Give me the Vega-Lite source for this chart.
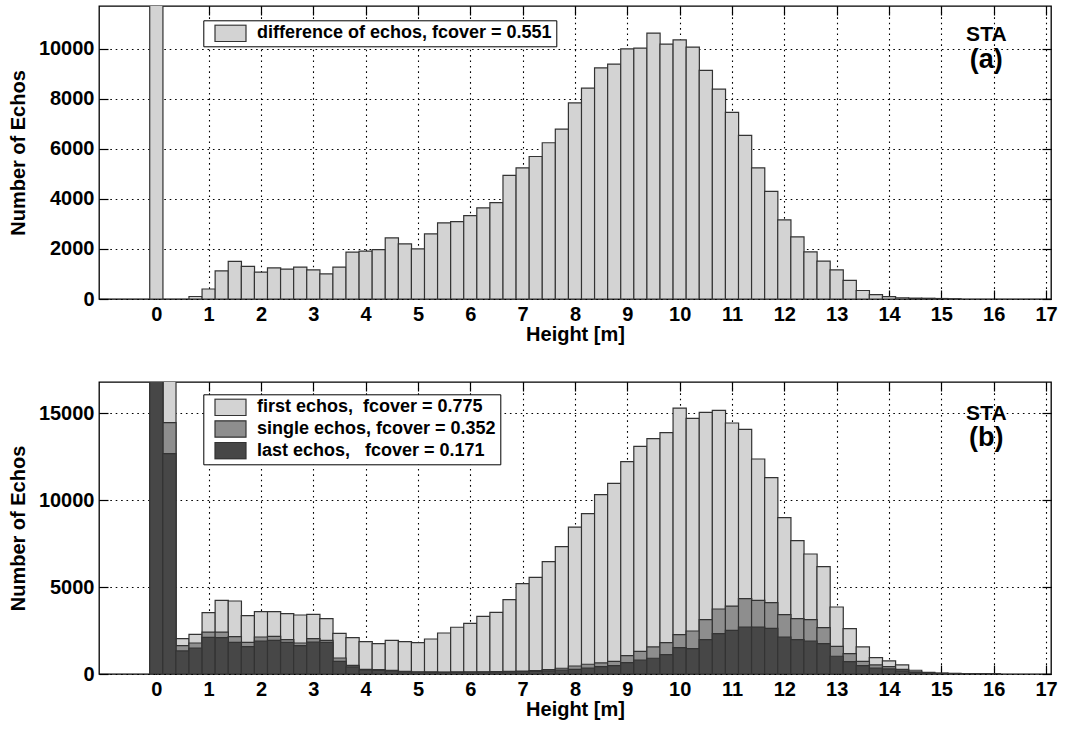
{
  "$schema": "https://vega.github.io/schema/vega-lite/v6.json",
  "background": "white",
  "padding": {"left": 7, "top": 4, "right": 3, "bottom": 2},
  "spacing": 35,
  "config": {
    "font": "Liberation Sans",
    "view": {"stroke": "#000", "strokeWidth": 1.3},
    "axis": {
      "labelFont": "Liberation Sans", "labelFontSize": 20, "labelFontWeight": "bold", "labelColor": "#000",
      "titleFont": "Liberation Sans", "titleFontSize": 20, "titleFontWeight": "bold", "titleColor": "#000",
      "domain": false, "tickColor": "#000", "tickSize": -9, "tickWidth": 1.2, "format": "d",
      "gridColor": "#000", "gridDash": [1.6, 3.8], "gridWidth": 1.1, "gridOpacity": 1
    },
    "legend": {
      "labelFont": "Liberation Sans", "labelFontSize": 18, "labelFontWeight": "bold", "labelColor": "#000", "labelLimit": 500,
      "strokeColor": "#000", "fillColor": "#fff", "padding": 4, "symbolOffset": 6.7, "labelOffset": 10,
      "rowPadding": 3.7, "clipHeight": 18, "symbolSize": 961, "symbolStrokeWidth": 1.2, "symbolStrokeColor": "#333"
    }
  },
  "resolve": {"scale": {"color": "independent"}, "legend": {"color": "independent"}},
  "datasets": {
    "top": [
      {"h": 0, "n": 30000}, {"h": 0.75, "n": 100}, {"h": 1.0, "n": 400}, {"h": 1.25, "n": 1120}, {"h": 1.5, "n": 1500},
      {"h": 1.75, "n": 1300}, {"h": 2.0, "n": 1070}, {"h": 2.25, "n": 1240}, {"h": 2.5, "n": 1190}, {"h": 2.75, "n": 1270},
      {"h": 3.0, "n": 1160}, {"h": 3.25, "n": 1000}, {"h": 3.5, "n": 1270}, {"h": 3.75, "n": 1870}, {"h": 4.0, "n": 1910},
      {"h": 4.25, "n": 1970}, {"h": 4.5, "n": 2440}, {"h": 4.75, "n": 2200}, {"h": 5.0, "n": 2000}, {"h": 5.25, "n": 2600},
      {"h": 5.5, "n": 3040}, {"h": 5.75, "n": 3090}, {"h": 6.0, "n": 3330}, {"h": 6.25, "n": 3640}, {"h": 6.5, "n": 3850},
      {"h": 6.75, "n": 4940}, {"h": 7.0, "n": 5240}, {"h": 7.25, "n": 5690}, {"h": 7.5, "n": 6240}, {"h": 7.75, "n": 6780},
      {"h": 8.0, "n": 7830}, {"h": 8.25, "n": 8420}, {"h": 8.5, "n": 9230}, {"h": 8.75, "n": 9380}, {"h": 9.0, "n": 9990},
      {"h": 9.25, "n": 10020}, {"h": 9.5, "n": 10620}, {"h": 9.75, "n": 10180}, {"h": 10.0, "n": 10350}, {"h": 10.25, "n": 10060},
      {"h": 10.5, "n": 9130}, {"h": 10.75, "n": 8380}, {"h": 11.0, "n": 7450}, {"h": 11.25, "n": 6530}, {"h": 11.5, "n": 5240},
      {"h": 11.75, "n": 4300}, {"h": 12.0, "n": 3160}, {"h": 12.25, "n": 2480}, {"h": 12.5, "n": 1880}, {"h": 12.75, "n": 1510},
      {"h": 13.0, "n": 1160}, {"h": 13.25, "n": 740}, {"h": 13.5, "n": 340}, {"h": 13.75, "n": 175}, {"h": 14.0, "n": 95},
      {"h": 14.25, "n": 50}, {"h": 14.5, "n": 35}, {"h": 14.75, "n": 30}, {"h": 15.0, "n": 20}, {"h": 15.25, "n": 10}
    ],
    "bottom": [
      {"h": 0, "s": "first", "n": 40000}, {"h": 0.25, "s": "first", "n": 20000}, {"h": 0.5, "s": "first", "n": 2035},
      {"h": 0.75, "s": "first", "n": 2280}, {"h": 1.0, "s": "first", "n": 3530}, {"h": 1.25, "s": "first", "n": 4240},
      {"h": 1.5, "s": "first", "n": 4200}, {"h": 1.75, "s": "first", "n": 3360}, {"h": 2.0, "s": "first", "n": 3590},
      {"h": 2.25, "s": "first", "n": 3590}, {"h": 2.5, "s": "first", "n": 3475}, {"h": 2.75, "s": "first", "n": 3395},
      {"h": 3.0, "s": "first", "n": 3435}, {"h": 3.25, "s": "first", "n": 3185}, {"h": 3.5, "s": "first", "n": 2340},
      {"h": 3.75, "s": "first", "n": 2095}, {"h": 4.0, "s": "first", "n": 1865}, {"h": 4.25, "s": "first", "n": 1750},
      {"h": 4.5, "s": "first", "n": 1940}, {"h": 4.75, "s": "first", "n": 1865}, {"h": 5.0, "s": "first", "n": 1805},
      {"h": 5.25, "s": "first", "n": 2015}, {"h": 5.5, "s": "first", "n": 2360}, {"h": 5.75, "s": "first", "n": 2690},
      {"h": 6.0, "s": "first", "n": 2915}, {"h": 6.25, "s": "first", "n": 3320}, {"h": 6.5, "s": "first", "n": 3550},
      {"h": 6.75, "s": "first", "n": 4280}, {"h": 7.0, "s": "first", "n": 5200}, {"h": 7.25, "s": "first", "n": 5560},
      {"h": 7.5, "s": "first", "n": 6465}, {"h": 7.75, "s": "first", "n": 7330}, {"h": 8.0, "s": "first", "n": 8455},
      {"h": 8.25, "s": "first", "n": 9230}, {"h": 8.5, "s": "first", "n": 10320}, {"h": 8.75, "s": "first", "n": 10970},
      {"h": 9.0, "s": "first", "n": 12220}, {"h": 9.25, "s": "first", "n": 13100}, {"h": 9.5, "s": "first", "n": 13540},
      {"h": 9.75, "s": "first", "n": 13890}, {"h": 10.0, "s": "first", "n": 15300}, {"h": 10.25, "s": "first", "n": 14710},
      {"h": 10.5, "s": "first", "n": 15055}, {"h": 10.75, "s": "first", "n": 15170}, {"h": 11.0, "s": "first", "n": 14440},
      {"h": 11.25, "s": "first", "n": 14075}, {"h": 11.5, "s": "first", "n": 12370}, {"h": 11.75, "s": "first", "n": 11300},
      {"h": 12.0, "s": "first", "n": 9000}, {"h": 12.25, "s": "first", "n": 7675}, {"h": 12.5, "s": "first", "n": 6905},
      {"h": 12.75, "s": "first", "n": 6180}, {"h": 13.0, "s": "first", "n": 3855}, {"h": 13.25, "s": "first", "n": 2610},
      {"h": 13.5, "s": "first", "n": 1555}, {"h": 13.75, "s": "first", "n": 945}, {"h": 14.0, "s": "first", "n": 750},
      {"h": 14.25, "s": "first", "n": 520}, {"h": 14.5, "s": "first", "n": 215}, {"h": 14.75, "s": "first", "n": 90},
      {"h": 15.0, "s": "first", "n": 60}, {"h": 15.25, "s": "first", "n": 40}, {"h": 15.5, "s": "first", "n": 20},
      {"h": 15.75, "s": "first", "n": 15}, {"h": 16.0, "s": "first", "n": 10},

      {"h": 0, "s": "single", "n": 36000}, {"h": 0.25, "s": "single", "n": 14460}, {"h": 0.5, "s": "single", "n": 1630},
      {"h": 0.75, "s": "single", "n": 1785}, {"h": 1.0, "s": "single", "n": 2415}, {"h": 1.25, "s": "single", "n": 2415},
      {"h": 1.5, "s": "single", "n": 2150}, {"h": 1.75, "s": "single", "n": 1825}, {"h": 2.0, "s": "single", "n": 2130},
      {"h": 2.25, "s": "single", "n": 2170}, {"h": 2.5, "s": "single", "n": 1980}, {"h": 2.75, "s": "single", "n": 1785},
      {"h": 3.0, "s": "single", "n": 2035}, {"h": 3.25, "s": "single", "n": 1940}, {"h": 3.5, "s": "single", "n": 920},
      {"h": 3.75, "s": "single", "n": 500}, {"h": 4.0, "s": "single", "n": 270}, {"h": 4.25, "s": "single", "n": 250},
      {"h": 4.5, "s": "single", "n": 210}, {"h": 4.75, "s": "single", "n": 150}, {"h": 5.0, "s": "single", "n": 130},
      {"h": 5.25, "s": "single", "n": 120}, {"h": 5.5, "s": "single", "n": 115}, {"h": 5.75, "s": "single", "n": 120},
      {"h": 6.0, "s": "single", "n": 125}, {"h": 6.25, "s": "single", "n": 130}, {"h": 6.5, "s": "single", "n": 140},
      {"h": 6.75, "s": "single", "n": 150}, {"h": 7.0, "s": "single", "n": 170}, {"h": 7.25, "s": "single", "n": 190},
      {"h": 7.5, "s": "single", "n": 250}, {"h": 7.75, "s": "single", "n": 330}, {"h": 8.0, "s": "single", "n": 460},
      {"h": 8.25, "s": "single", "n": 560}, {"h": 8.5, "s": "single", "n": 635}, {"h": 8.75, "s": "single", "n": 730},
      {"h": 9.0, "s": "single", "n": 1060}, {"h": 9.25, "s": "single", "n": 1305}, {"h": 9.5, "s": "single", "n": 1555},
      {"h": 9.75, "s": "single", "n": 1805}, {"h": 10.0, "s": "single", "n": 2265}, {"h": 10.25, "s": "single", "n": 2475},
      {"h": 10.5, "s": "single", "n": 3130}, {"h": 10.75, "s": "single", "n": 3740}, {"h": 11.0, "s": "single", "n": 3910},
      {"h": 11.25, "s": "single", "n": 4340}, {"h": 11.5, "s": "single", "n": 4240}, {"h": 11.75, "s": "single", "n": 4105},
      {"h": 12.0, "s": "single", "n": 3415}, {"h": 12.25, "s": "single", "n": 3185}, {"h": 12.5, "s": "single", "n": 3130},
      {"h": 12.75, "s": "single", "n": 2670}, {"h": 13.0, "s": "single", "n": 1595}, {"h": 13.25, "s": "single", "n": 1175},
      {"h": 13.5, "s": "single", "n": 730}, {"h": 13.75, "s": "single", "n": 520}, {"h": 14.0, "s": "single", "n": 425},
      {"h": 14.25, "s": "single", "n": 270}, {"h": 14.5, "s": "single", "n": 120}, {"h": 14.75, "s": "single", "n": 50},
      {"h": 15.0, "s": "single", "n": 30}, {"h": 15.25, "s": "single", "n": 20}, {"h": 15.5, "s": "single", "n": 10},
      {"h": 15.75, "s": "single", "n": 8}, {"h": 16.0, "s": "single", "n": 5},

      {"h": 0, "s": "last", "n": 32000}, {"h": 0.25, "s": "last", "n": 12680}, {"h": 0.5, "s": "last", "n": 1325},
      {"h": 0.75, "s": "last", "n": 1495}, {"h": 1.0, "s": "last", "n": 2110}, {"h": 1.25, "s": "last", "n": 2095},
      {"h": 1.5, "s": "last", "n": 1825}, {"h": 1.75, "s": "last", "n": 1575}, {"h": 2.0, "s": "last", "n": 1900},
      {"h": 2.25, "s": "last", "n": 1940}, {"h": 2.5, "s": "last", "n": 1825}, {"h": 2.75, "s": "last", "n": 1635},
      {"h": 3.0, "s": "last", "n": 1840}, {"h": 3.25, "s": "last", "n": 1825}, {"h": 3.5, "s": "last", "n": 730},
      {"h": 3.75, "s": "last", "n": 405}, {"h": 4.0, "s": "last", "n": 215}, {"h": 4.25, "s": "last", "n": 200},
      {"h": 4.5, "s": "last", "n": 180}, {"h": 4.75, "s": "last", "n": 120}, {"h": 5.0, "s": "last", "n": 100},
      {"h": 5.25, "s": "last", "n": 90}, {"h": 5.5, "s": "last", "n": 90}, {"h": 5.75, "s": "last", "n": 95},
      {"h": 6.0, "s": "last", "n": 100}, {"h": 6.25, "s": "last", "n": 105}, {"h": 6.5, "s": "last", "n": 110},
      {"h": 6.75, "s": "last", "n": 120}, {"h": 7.0, "s": "last", "n": 135}, {"h": 7.25, "s": "last", "n": 150},
      {"h": 7.5, "s": "last", "n": 180}, {"h": 7.75, "s": "last", "n": 230}, {"h": 8.0, "s": "last", "n": 270},
      {"h": 8.25, "s": "last", "n": 345}, {"h": 8.5, "s": "last", "n": 425}, {"h": 8.75, "s": "last", "n": 480},
      {"h": 9.0, "s": "last", "n": 655}, {"h": 9.25, "s": "last", "n": 805}, {"h": 9.5, "s": "last", "n": 905},
      {"h": 9.75, "s": "last", "n": 1115}, {"h": 10.0, "s": "last", "n": 1520}, {"h": 10.25, "s": "last", "n": 1460},
      {"h": 10.5, "s": "last", "n": 1980}, {"h": 10.75, "s": "last", "n": 2325}, {"h": 11.0, "s": "last", "n": 2515},
      {"h": 11.25, "s": "last", "n": 2705}, {"h": 11.5, "s": "last", "n": 2705}, {"h": 11.75, "s": "last", "n": 2630},
      {"h": 12.0, "s": "last", "n": 2130}, {"h": 12.25, "s": "last", "n": 1980}, {"h": 12.5, "s": "last", "n": 1900},
      {"h": 12.75, "s": "last", "n": 1750}, {"h": 13.0, "s": "last", "n": 1020}, {"h": 13.25, "s": "last", "n": 715},
      {"h": 13.5, "s": "last", "n": 485}, {"h": 13.75, "s": "last", "n": 345}, {"h": 14.0, "s": "last", "n": 290},
      {"h": 14.25, "s": "last", "n": 175}, {"h": 14.5, "s": "last", "n": 80}, {"h": 14.75, "s": "last", "n": 30},
      {"h": 15.0, "s": "last", "n": 20}, {"h": 15.25, "s": "last", "n": 10}, {"h": 15.5, "s": "last", "n": 5},
      {"h": 15.75, "s": "last", "n": 4}, {"h": 16.0, "s": "last", "n": 3}
    ]
  },
  "vconcat": [
    {
      "width": 952, "height": 293,
      "resolve": {"axis": {"x": "independent", "y": "independent"}},
      "layer": [
        {
          "data": {"name": "top"},
          "mark": {"type": "bar", "width": 13.22, "stroke": "#333", "strokeWidth": 1.2, "clip": true},
          "encoding": {
            "x": {"field": "h", "type": "quantitative", "scale": {"domain": [-1, 17], "nice": false, "zero": false},
                  "axis": {"values": [0,1,2,3,4,5,6,7,8,9,10,11,12,13,14,15,16,17], "title": "Height [m]", "grid": true, "labelPadding": 14, "titlePadding": 0, "labelFlush": false}},
            "y": {"field": "n", "type": "quantitative", "scale": {"domain": [0, 11700], "nice": false},
                  "axis": {"values": [0,2000,4000,6000,8000,10000], "title": "Number of Echos", "grid": true, "labelPadding": 14, "titlePadding": 10}},
            "color": {"datum": "diff", "type": "nominal", "scale": {"domain": ["diff"], "range": ["#d3d3d3"]},
                      "legend": {"title": null, "orient": "none", "legendX": 104.3, "legendY": 14.3, "symbolType": "M-1,-0.53H1V0.53H-1Z",
                                 "labelExpr": "'difference of echos, fcover = 0.551\u00a0\u00a0'"}}
          }
        },
        {
          "data": {"values": [{}]},
          "mark": {"type": "text", "text": "STA", "fontSize": 21, "fontWeight": "bold", "font": "Liberation Sans", "color": "#000"},
          "encoding": {
            "x": {"datum": 15.86, "type": "quantitative", "scale": {"domain": [-1, 17], "nice": false, "zero": false},
                  "axis": {"orient": "top", "values": [0,1,2,3,4,5,6,7,8,9,10,11,12,13,14,15,16,17], "labels": false, "title": null, "grid": false}},
            "y": {"datum": 10540, "type": "quantitative", "scale": {"domain": [0, 11700], "nice": false},
                  "axis": {"orient": "right", "values": [0,2000,4000,6000,8000,10000], "labels": false, "title": null, "grid": false}}
          }
        },
        {
          "data": {"values": [{}]},
          "mark": {"type": "text", "text": "(a)", "fontSize": 27, "fontWeight": "bold", "font": "Liberation Sans", "color": "#000"},
          "encoding": {
            "x": {"datum": 15.86, "type": "quantitative", "axis": null},
            "y": {"datum": 9541, "type": "quantitative", "axis": null}
          }
        }
      ]
    },
    {
      "width": 952, "height": 292,
      "resolve": {"axis": {"x": "independent", "y": "independent"}},
      "layer": [
        {
          "data": {"name": "bottom"},
          "mark": {"type": "bar", "width": 13.22, "stroke": "#333", "strokeWidth": 1.2, "clip": true},
          "encoding": {
            "x": {"field": "h", "type": "quantitative", "scale": {"domain": [-1, 17], "nice": false, "zero": false},
                  "axis": {"values": [0,1,2,3,4,5,6,7,8,9,10,11,12,13,14,15,16,17], "title": "Height [m]", "grid": true, "labelPadding": 14, "titlePadding": 0, "labelFlush": false}},
            "y": {"field": "n", "type": "quantitative", "stack": null, "scale": {"domain": [0, 16800], "nice": false},
                  "axis": {"values": [0,5000,10000,15000], "title": "Number of Echos", "grid": true, "labelPadding": 14, "titlePadding": 10}},
            "color": {"field": "s", "type": "nominal", "scale": {"domain": ["first", "single", "last"], "range": ["#d3d3d3", "#8e8e8e", "#474747"]},
                      "legend": {"title": null, "orient": "none", "legendX": 104.3, "legendY": 12.3, "symbolType": "M-1,-0.53H1V0.53H-1Z",
                                 "labelExpr": "datum.label == 'first' ? 'first echos,\u00a0 fcover = 0.775' : datum.label == 'single' ? 'single echos, fcover = 0.352\u00a0\u00a0' : 'last echos,\u00a0\u00a0 fcover = 0.171'"}}
          }
        },
        {
          "data": {"values": [{}]},
          "mark": {"type": "text", "text": "STA", "fontSize": 21, "fontWeight": "bold", "font": "Liberation Sans", "color": "#000"},
          "encoding": {
            "x": {"datum": 15.86, "type": "quantitative", "scale": {"domain": [-1, 17], "nice": false, "zero": false},
                  "axis": {"orient": "top", "values": [0,1,2,3,4,5,6,7,8,9,10,11,12,13,14,15,16,17], "labels": false, "title": null, "grid": false}},
            "y": {"datum": 14940, "type": "quantitative", "scale": {"domain": [0, 16800], "nice": false},
                  "axis": {"orient": "right", "values": [0,5000,10000,15000], "labels": false, "title": null, "grid": false}}
          }
        },
        {
          "data": {"values": [{}]},
          "mark": {"type": "text", "text": "(b)", "fontSize": 27, "fontWeight": "bold", "font": "Liberation Sans", "color": "#000"},
          "encoding": {
            "x": {"datum": 15.86, "type": "quantitative", "axis": null},
            "y": {"datum": 13560, "type": "quantitative", "axis": null}
          }
        }
      ]
    }
  ]
}
